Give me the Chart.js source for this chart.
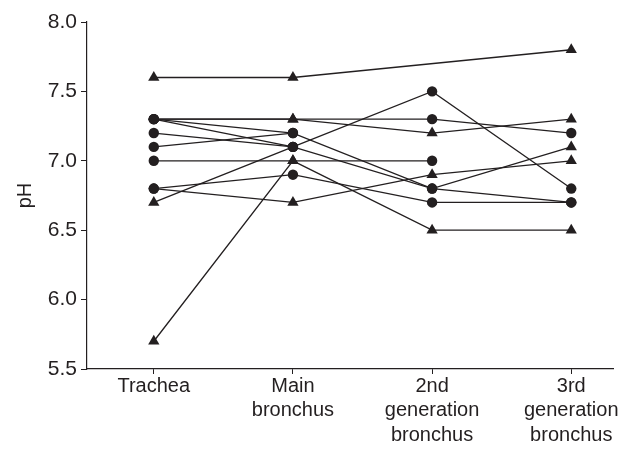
<!DOCTYPE html>
<html>
<head>
<meta charset="utf-8">
<script src="https://cdn.jsdelivr.net/npm/chart.js@4"></script>
<style>
  html, body { margin: 0; padding: 0; background: #fff; }
  #wrap { width: 625px; height: 453px; }
</style>
</head>
<body>
<div id="wrap"><canvas id="phChart" width="625" height="453"></canvas></div>
<script>
// sites along the airway
const categories = ['Trachea', ['Main', 'bronchus'], ['2nd', 'generation', 'bronchus'], ['3rd', 'generation', 'bronchus']];

// pH per subject at each site (null = not measured)
const s1  = [7.6, 7.6, null, 7.8];
const s2  = [7.3, 7.3, 7.3, 7.2];
const s3  = [7.3, 7.3, 7.2, 7.3];
const s4  = [7.3, 7.2, 6.8, 6.7];
const s5  = [7.3, 7.1, 6.8, 7.1];
const s6  = [7.2, 7.1, null, null];
const s7  = [7.1, 7.2, null, null];
const s8  = [6.7, 7.1, 7.5, 6.8];
const s9  = [7.0, 7.0, 7.0, null];
const s10 = [5.7, 7.0, 6.5, 6.5];
const s11 = [6.8, 6.9, 6.7, 6.7];
const s12 = [6.8, 6.7, 6.9, 7.0];

// marker seen at each point: c = circle, t = triangle
const m1  = 'tt-t', m2  = 'ctcc', m3  = 'cttt', m4  = 'cccc';
const m5  = 'ccct', m6  = 'cc--', m7  = 'cc--', m8  = 'tccc';
const m9  = 'ctc-', m10 = 'tttt', m11 = 'cccc', m12 = 'cttt';

const yTicks = [5.5, 6.0, 6.5, 7.0, 7.5, 8.0];

const series = [
    [s1, m1], [s2, m2], [s3, m3], [s4, m4], [s5, m5], [s6, m6],
    [s7, m7], [s8, m8], [s9, m9], [s10, m10], [s11, m11], [s12, m12]
];

const ink = '#231f20';
const font = { family: '"Liberation Sans", Arial, sans-serif', size: 20 };

const datasets = series.map(([vals, marks]) => {
    const pts = [];
    const styles = [];
    vals.forEach((v, i) => {
        if (v === null) return;
        pts.push({ x: i, y: v });
        styles.push(marks[i] === 't' ? 'triangle' : 'circle');
    });
    return {
        data: pts,
        borderColor: ink,
        borderWidth: 1.3,
        backgroundColor: ink,
        pointBackgroundColor: ink,
        pointBorderColor: ink,
        pointBorderWidth: 0,
        pointStyle: styles,
        pointRadius: styles.map(s => s === 'triangle' ? 6.5 : 5.2),
        tension: 0,
        fill: false
    };
});

new Chart(document.getElementById('phChart'), {
    type: 'line',
    data: { datasets },
    options: {
        responsive: false,
        animation: false,
        events: [],
        layout: { padding: { top: 22, right: 12, left: 0, bottom: 0 } },
        plugins: { legend: { display: false }, tooltip: { enabled: false } },
        scales: {
            x: {
                type: 'linear',
                min: -0.48,
                max: 3.3,
                afterBuildTicks: (scale) => {
                    scale.ticks = categories.map((_, i) => ({ value: i }));
                },
                afterFit: (scale) => { scale.height = 84; },
                border: { display: true, color: ink, width: 1.2 },
                grid: { drawOnChartArea: false, drawTicks: true, tickLength: 5, color: ink, lineWidth: 1 },
                ticks: {
                    color: ink,
                    font: { ...font, lineHeight: 1.22 },
                    padding: 0,
                    maxRotation: 0,
                    autoSkip: false,
                    callback: (v) => categories[v]
                }
            },
            y: {
                min: 5.5,
                max: 8.0,
                afterBuildTicks: (scale) => {
                    scale.ticks = yTicks.map(v => ({ value: v }));
                },
                afterFit: (scale) => { scale.width = 87; },
                border: { display: true, color: ink, width: 1.2 },
                grid: { drawOnChartArea: false, drawTicks: true, tickLength: 6, color: ink, lineWidth: 1 },
                ticks: {
                    color: ink,
                    font: { ...font, size: 21 },
                    padding: 4,
                    autoSkip: false,
                    callback: (v) => v.toFixed(1)
                },
                title: {
                    display: true,
                    text: 'pH',
                    color: ink,
                    font,
                    padding: { top: 13, bottom: 0 }
                }
            }
        }
    }
});
</script>
</body>
</html>
